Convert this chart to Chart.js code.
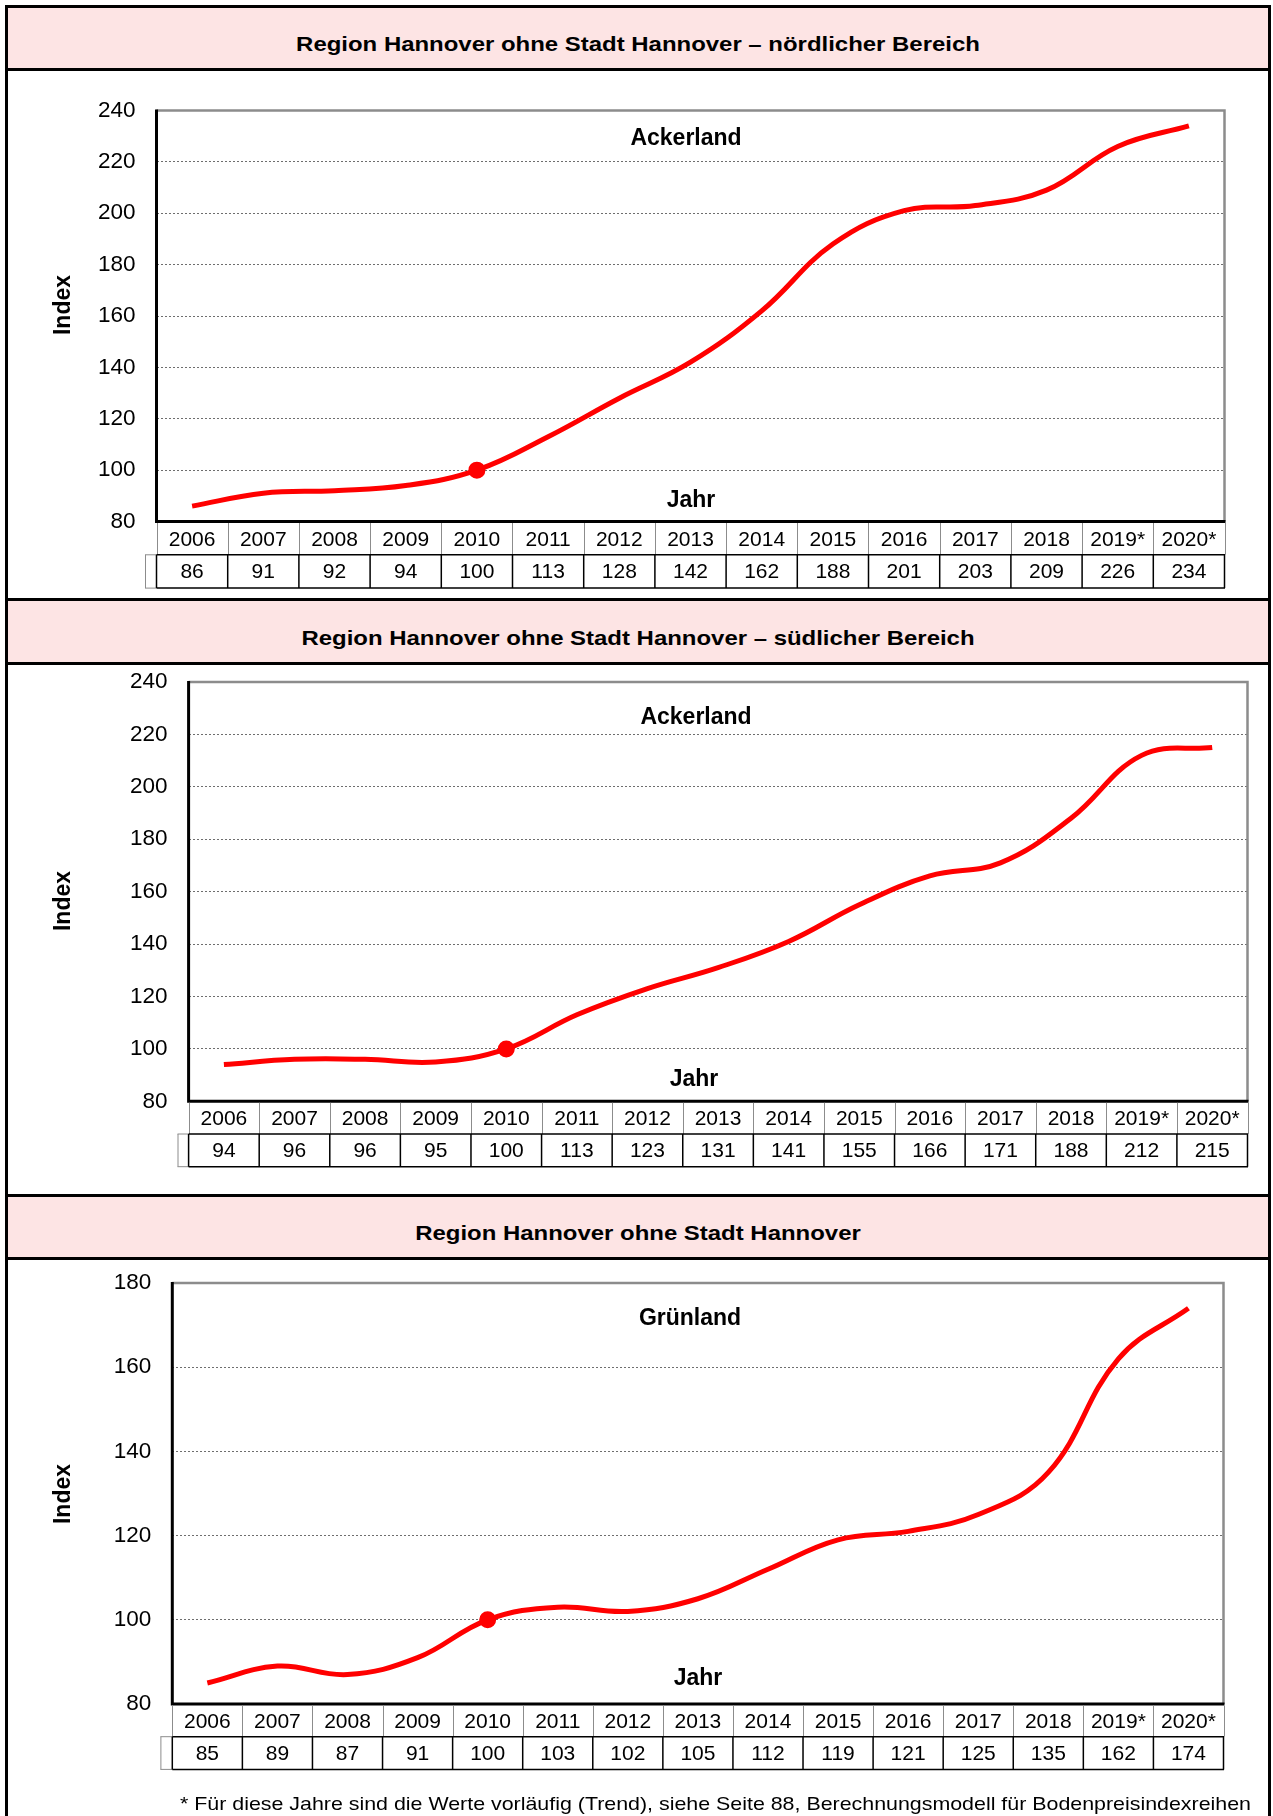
<!DOCTYPE html>
<html>
<head>
<meta charset="utf-8">
<script src="https://cdn.jsdelivr.net/npm/chart.js@4/dist/chart.umd.min.js"></script>
<style>
  body { margin: 0; background: #fff; }
  #page { position: relative; width: 1273px; height: 1816px; overflow: hidden; background: #fff;
          font-family: "Liberation Sans", Arial, sans-serif; }
  .frame { position: absolute; left: 5px; top: 5px; width: 1266px; height: 1900px;
           border: 3px solid #000; box-sizing: border-box; }
  .band { position: absolute; left: 8px; width: 1260px; background: #fde4e4; }
  .hline { position: absolute; left: 5px; width: 1266px; height: 3px; background: #000; }
  .title { position: absolute; left: 5px; width: 1266px; text-align: center; font-weight: bold;
           font-size: 21px; line-height: 21px; color: #000; white-space: nowrap;
           transform: scaleX(1.14); transform-origin: 50% 50%; }
  .note { position: absolute; left: 180px; top: 1795px; font-size: 18.6px; line-height: 18.6px;
          white-space: nowrap; transform-origin: 0 50%; color: #000; }
  canvas { position: absolute; left: 0; }
</style>
</head>
<body>
<div id="page">
  <div class="frame"></div>
  <div class="band" style="top:8px;height:60px"></div>
  <div class="hline" style="top:68px"></div>
  <div class="hline" style="top:598px"></div>
  <div class="band" style="top:601px;height:61px"></div>
  <div class="hline" style="top:662px"></div>
  <div class="hline" style="top:1194px"></div>
  <div class="band" style="top:1197px;height:60px"></div>
  <div class="hline" style="top:1257px"></div>

  <div class="title" style="top:33px">Region Hannover ohne Stadt Hannover – nördlicher Bereich</div>
  <div class="title" style="top:627px">Region Hannover ohne Stadt Hannover – südlicher Bereich</div>
  <div class="title" style="top:1222px">Region Hannover ohne Stadt Hannover</div>

  <canvas id="chart1" width="1273" height="527" style="top:71px"></canvas>
  <canvas id="chart2" width="1273" height="529" style="top:665px"></canvas>
  <canvas id="chart3" width="1273" height="556" style="top:1260px"></canvas>

  <div class="note" id="note">* Für diese Jahre sind die Werte vorläufig (Trend), siehe Seite 88, Berechnungsmodell für Bodenpreisindexreihen</div>
</div>

<script>
// data
const years = ['2006', '2007', '2008', '2009', '2010', '2011', '2012', '2013', '2014',
               '2015', '2016', '2017', '2018', '2019*', '2020*'];
const nordAcker = [86, 91, 92, 94, 100, 113, 128, 142, 162, 188, 201, 203, 209, 226, 234];
const suedAcker = [94, 96, 96, 95, 100, 113, 123, 131, 141, 155, 166, 171, 188, 212, 215];
const gruenland = [85, 89, 87, 91, 100, 103, 102, 105, 112, 119, 121, 125, 135, 162, 174];
const baseYear = '2010';

Chart.defaults.font.family = '"Liberation Sans", Arial, sans-serif';
Chart.defaults.color = '#000';

// footnote stretched to its width in the original
var note = document.getElementById('note');
note.style.transform = 'scaleX(' + (1071 / note.getBoundingClientRect().width) + ')';

//******************* plugin: plot frame, table under the axis, labels *******************
const sheetPlugin = {
  id: 'sheet',
  afterDatasetsDraw(chart, args, opts) {
    const a = chart.chartArea;
    const ctx = chart.ctx;
    ctx.save();
    ctx.strokeStyle = '#8c8c8c';
    ctx.lineWidth = 2.5;
    ctx.beginPath();
    ctx.moveTo(a.left, a.top);
    ctx.lineTo(a.right, a.top);
    ctx.lineTo(a.right, a.bottom);
    ctx.stroke();
    ctx.strokeStyle = '#000';
    ctx.lineWidth = 3;
    ctx.beginPath();
    ctx.moveTo(a.left, a.top - 1);
    ctx.lineTo(a.left, a.bottom);
    ctx.lineTo(a.right + 1, a.bottom);
    ctx.stroke();
    ctx.restore();
  },
  afterDraw(chart, args, opts) {
    const a = chart.chartArea;
    const ctx = chart.ctx;
    const x = chart.scales.x;
    const labels = chart.data.labels;
    const values = chart.data.datasets[0].data;
    const n = labels.length;
    const colW = (a.right - a.left) / n;
    const r0 = a.bottom + 1.5;
    const r1 = a.bottom + opts.rowH;
    const r2 = r1 + opts.rowH;
    const edge = (i) => x.getPixelForValue(i) - colW / 2;

    ctx.save();
    // year row: grey separators
    ctx.strokeStyle = '#8c8c8c';
    ctx.lineWidth = 1;
    for (let i = 0; i <= n; i++) {
      const ex = i < n ? edge(i) : edge(n - 1) + colW;
      ctx.beginPath();
      ctx.moveTo(Math.round(ex) + 0.5, r0);
      ctx.lineTo(Math.round(ex) + 0.5, r1);
      ctx.stroke();
    }
    // empty key cell left of the value row
    ctx.beginPath();
    ctx.moveTo(opts.keyLeft + 0.5, r1);
    ctx.lineTo(opts.keyLeft + 0.5, r2);
    ctx.moveTo(opts.keyLeft, r1);
    ctx.lineTo(a.left, r1);
    ctx.moveTo(opts.keyLeft, r2);
    ctx.lineTo(a.left, r2);
    ctx.stroke();
    // value row: black grid
    ctx.strokeStyle = '#000';
    ctx.lineWidth = 1.5;
    ctx.beginPath();
    ctx.moveTo(a.left, r1);
    ctx.lineTo(a.right + 0.5, r1);
    ctx.moveTo(a.left, r2);
    ctx.lineTo(a.right + 0.5, r2);
    for (let i = 0; i <= n; i++) {
      const ex = i < n ? edge(i) : edge(n - 1) + colW;
      ctx.moveTo(ex, r1);
      ctx.lineTo(ex, r2);
    }
    ctx.stroke();

    ctx.fillStyle = '#000';
    ctx.font = '21px "Liberation Sans", Arial, sans-serif';
    ctx.textAlign = 'center';
    ctx.textBaseline = 'middle';
    for (let i = 0; i < n; i++) {
      const cx = x.getPixelForValue(i);
      ctx.fillText(labels[i], cx, (r0 + r1) / 2 + 1);
      ctx.fillText(String(values[i]), cx, (r1 + r2) / 2 + 1);
    }

    // labels inside the plot
    ctx.font = 'bold 23px "Liberation Sans", Arial, sans-serif';
    ctx.textBaseline = 'alphabetic';
    ctx.fillText(opts.name, opts.nameX, opts.nameY);
    ctx.fillText('Jahr', opts.jahrX, opts.jahrY);

    // rotated axis title
    ctx.translate(64, opts.indexY);
    ctx.rotate(-Math.PI / 2);
    ctx.textBaseline = 'middle';
    ctx.fillText('Index', 0, 0);
    ctx.restore();
  }
};

function makeChart(id, values, yMax, pad, sheet) {
  const ctx = document.getElementById(id);
  return new Chart(ctx, {
    type: 'line',
    data: {
      labels: years,
      datasets: [{
        label: sheet.name,
        data: values,
        borderColor: '#ff0000',
        backgroundColor: '#ff0000',
        borderWidth: 5,
        tension: 0.4,
        fill: false,
        pointRadius: years.map(y => y === baseYear ? 7.5 : 0),
        pointBorderWidth: 2,
        pointBorderColor: '#ff0000',
        pointBackgroundColor: '#ff0000',
        pointHoverRadius: years.map(y => y === baseYear ? 7.5 : 0)
      }]
    },
    options: {
      responsive: false,
      animation: false,
      events: [],
      layout: { padding: pad },
      plugins: {
        legend: { display: false },
        tooltip: { enabled: false },
        sheet: sheet
      },
      scales: {
        x: {
          type: 'category',
          offset: true,
          display: false
        },
        y: {
          min: 80,
          max: yMax,
          afterFit: (scale) => {
            scale.width = 100;
            // labels may overhang the plot, layout padding already leaves room
            scale.paddingTop = 0;
            scale.paddingBottom = 0;
          },
          ticks: {
            stepSize: 20,
            padding: 21,
            color: '#000',
            font: { size: 22.5 }
          },
          grid: {
            color: '#6e6e6e',
            lineWidth: 1,
            drawTicks: false
          },
          border: { display: false, dash: [2, 2] }
        }
      }
    },
    plugins: [sheetPlugin]
  });
}

//******************* chart 1 nördlicher Bereich *******************
makeChart('chart1', nordAcker, 240,
  { left: 56.5, right: 48.5, top: 39.5, bottom: 76.5 },
  { name: 'Ackerland', nameX: 686, nameY: 74, jahrX: 691, jahrY: 435.5,
    indexY: 234, rowH: 33.3, keyLeft: 145 });

//******************* chart 2 südlicher Bereich *******************
makeChart('chart2', suedAcker, 240,
  { left: 88.6, right: 25.5, top: 17, bottom: 92.7 },
  { name: 'Ackerland', nameX: 696, nameY: 59, jahrX: 694, jahrY: 421,
    indexY: 236, rowH: 32.7, keyLeft: 177.5 });

//******************* chart 3 Grünland *******************
makeChart('chart3', gruenland, 180,
  { left: 72.3, right: 49.5, top: 23, bottom: 112 },
  { name: 'Grünland', nameX: 690, nameY: 65, jahrX: 698, jahrY: 425,
    indexY: 234, rowH: 32.7, keyLeft: 160.4 });
</script>
</body>
</html>
